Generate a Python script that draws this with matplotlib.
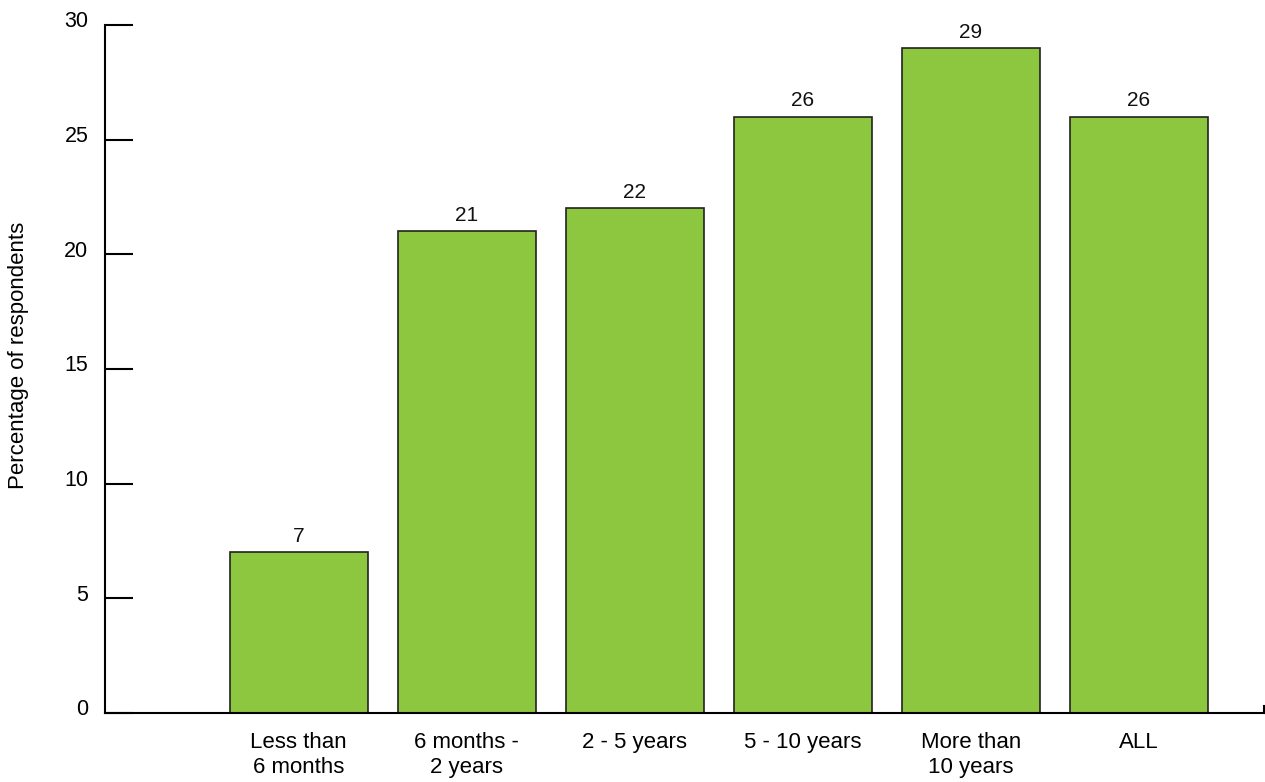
import matplotlib
matplotlib.use("Agg")
import matplotlib.pyplot as plt
from matplotlib.transforms import ScaledTranslation

plt.rcParams['font.family'] = ['Liberation Sans', 'DejaVu Sans']

categories = ["Less than\n6 months", "6 months -\n2 years", "2 - 5 years",
              "5 - 10 years", "More than\n10 years", "ALL"]
values = [7, 21, 22, 26, 29, 26]
y_ticks = [0, 5, 10, 15, 20, 25, 30]

fig = plt.figure(figsize=(12.65, 7.82), dpi=100)
ax = fig.add_axes([105 / 1265, 69 / 782, (1264 - 105) / 1265, (713 - 25) / 782])

x = list(range(len(categories)))
ax.bar(x, values, width=0.82, color="#8dc63f", edgecolor="#222222", linewidth=1.2)
for xi, v in zip(x, values):
    ax.annotate(str(v), (xi, v), xytext=(0, 4.5), textcoords="offset points",
                ha="center", va="bottom", fontsize=15, color="#111111")

ax.set_xlim(-1.153, 5.746)
ax.set_ylim(0, 30)
ax.set_yticks(y_ticks)
ax.set_yticklabels([str(t) for t in y_ticks])
ax.set_xticks(x)
ax.set_xticklabels(categories, linespacing=1.2)

ax.tick_params(axis="y", direction="in", length=20, width=1.5, labelsize=15.5, pad=12)
ax.tick_params(axis="x", length=0, labelsize=16, pad=14)

lift = ScaledTranslation(0, 4 / 72, fig.dpi_scale_trans)
for lbl in ax.get_yticklabels():
    lbl.set_transform(lbl.get_transform() + lift)

for side in ("top", "right"):
    ax.spines[side].set_visible(False)
ax.spines["left"].set_linewidth(1.5)
ax.spines["bottom"].set_linewidth(1.5)

# small closing mark at the right end of the baseline
ax.plot([5.746, 5.746], [0, 0.3], color="black", linewidth=1.5, clip_on=False)

ax.set_ylabel("Percentage of respondents", fontsize=16)
ax.yaxis.set_label_coords(-0.0656, 0.52)

fig.savefig("out.png", dpi=100)
